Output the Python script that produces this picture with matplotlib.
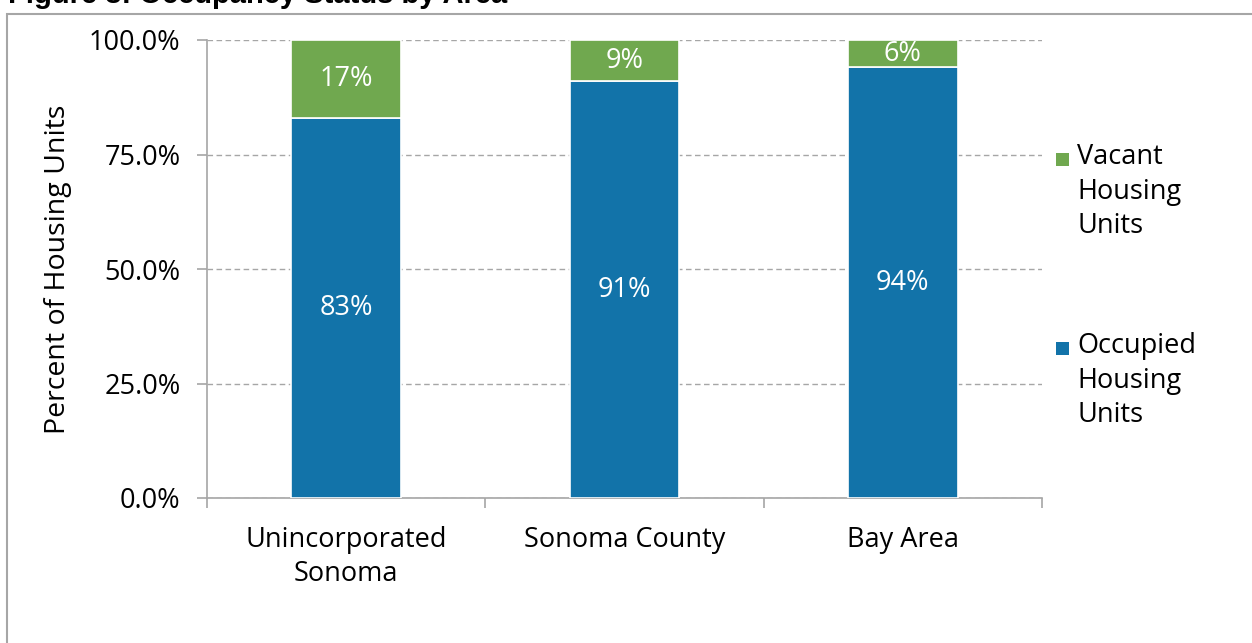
import matplotlib
matplotlib.use("Agg")
import matplotlib.pyplot as plt
from matplotlib.patches import Rectangle
from matplotlib.ticker import FuncFormatter, FixedLocator

categories = ["Unincorporated\nSonoma", "Sonoma County", "Bay Area"]
occupied = [83, 91, 94]
vacant = [17, 9, 6]
series_names = ["Vacant\nHousing\nUnits", "Occupied\nHousing\nUnits"]
yticks = [0, 25, 50, 75, 100]
title = "Figure 3: Occupancy Status by Area"

blue = "#1273A9"
green = "#70A84F"
grey = "#A6A6A6"
font = "Open Sans"
fs = 19.5

plt.rcParams["font.family"] = [font, "DejaVu Sans"]
fig = plt.figure(figsize=(12.52, 6.43), dpi=100)

# outer frame
fig.add_artist(Rectangle((7/1252, -0.01), 1.02, 1 - 14/643 + 0.01, transform=fig.transFigure,
                         fill=False, edgecolor=grey, linewidth=1.5))
# title clipped by the top edge, only bottoms visible
fig.text(8/1252, 1 - 3/643, title, fontsize=21, fontweight="bold",
         va="baseline", ha="left", color="black", family=["Liberation Sans"])

ax = fig.add_axes([207/1252, 1 - 498/643, (1042-207)/1252, (498-40)/643])
x = list(range(len(categories)))
w = 0.395
b1 = ax.bar(x, occupied, width=w, color=blue, edgecolor="white", linewidth=1.2, zorder=3)
b2 = ax.bar(x, vacant, width=w, bottom=occupied, color=green, edgecolor="white", linewidth=1.2,
            zorder=3)

for i in x:
    ax.text(i, occupied[i] / 2, f"{occupied[i]}%", ha="center", va="center", color="white",
            fontsize=fs, zorder=4)
    ax.text(i, occupied[i] + vacant[i] / 2, f"{vacant[i]}%", ha="center", va="center",
            color="white", fontsize=fs, zorder=4)

ax.set_xlim(-0.5, 2.5)
ax.set_ylim(0, 100)
ax.yaxis.set_major_locator(FixedLocator(yticks))
ax.yaxis.set_major_formatter(FuncFormatter(lambda v, p: f"{v:.1f}%"))
ax.grid(axis="y", linestyle=(0, (4, 2.5)), color=grey, linewidth=1, zorder=0)
for s in ["top", "right"]:
    ax.spines[s].set_visible(False)
for s in ["left", "bottom"]:
    ax.spines[s].set_color(grey)
    ax.spines[s].set_linewidth(1.2)

ax.set_xticks(x)
ax.set_xticklabels(categories, fontsize=fs, linespacing=1.3)
ax.tick_params(axis="x", length=0, pad=20)
ax.set_xticks([-0.5, 0.5, 1.5, 2.5], minor=True)
ax.tick_params(axis="x", which="minor", length=7, color=grey, width=1.2, direction="out")
ax.tick_params(axis="y", length=7, color=grey, width=1.2, labelsize=fs, pad=12)
ax.set_ylabel("Percent of Housing Units", fontsize=20.5, labelpad=12)

# manual legend (marker aligned with the first text line)
legend_items = [(series_names[0], green, 143), (series_names[1], blue, 332)]
for label, col, ytop in legend_items:
    fig.add_artist(Rectangle((1056/1252, 1 - (ytop + 23)/643), 13/1252, 13/643,
                             transform=fig.transFigure, facecolor=col, edgecolor="none"))
    fig.text(1077/1252, 1 - ytop/643, label, fontsize=fs, va="top", ha="left",
             linespacing=1.32)

fig.savefig("out.png", dpi=100)
